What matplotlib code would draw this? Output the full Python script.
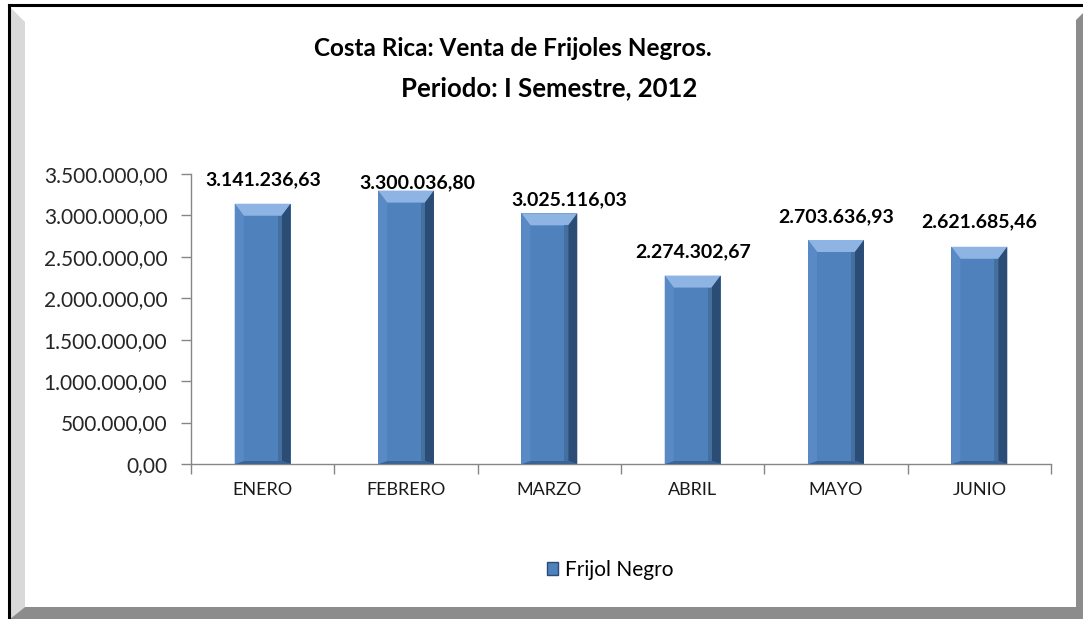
import matplotlib.pyplot as plt
import matplotlib.patches as mpatches
from matplotlib.ticker import FuncFormatter
import numpy as np

meses = ['ENERO', 'FEBRERO', 'MARZO', 'ABRIL', 'MAYO', 'JUNIO']
ventas = [3141236.63, 3300036.80, 3025116.03, 2274302.67, 2703636.93, 2621685.46]
serie = 'Frijol Negro'
titulo1 = 'Costa Rica: Venta de Frijoles Negros.'
titulo2 = 'Periodo: I Semestre, 2012'


def fmt_es(v, pos=None):
    s = f'{v:,.2f}'
    return s.replace(',', 'X').replace('.', ',').replace('X', '.')


plt.rcParams['font.family'] = ['Lato', 'DejaVu Sans']

W, H = 1083, 619
fig = plt.figure(figsize=(W / 100, H / 100), dpi=100)
fig.patch.set_facecolor('white')

# marco tipo Excel (bisel)
def px(x, y):
    return (x / W, 1 - y / H)

fig.patches.append(mpatches.Polygon([px(10, 7), px(25, 22), px(25, 607), px(10, 619)],
                                    closed=True, transform=fig.transFigure,
                                    facecolor='#D9D9D9', edgecolor='none'))
fig.patches.append(mpatches.Polygon([px(10, 619), px(25, 607), px(1076, 607), px(1083, 600), px(1083, 619)],
                                    closed=True, transform=fig.transFigure,
                                    facecolor='#8C8C8C', edgecolor='none'))
fig.patches.append(mpatches.Polygon([px(1076, 20), px(1083, 13), px(1083, 619), px(1076, 607)],
                                    closed=True, transform=fig.transFigure,
                                    facecolor='#8C8C8C', edgecolor='none'))
fig.lines.append(plt.Line2D([8.5 / W, 8.5 / W], [0, 1 - 5 / H], transform=fig.transFigure,
                            color='black', lw=2.2, solid_capstyle='projecting'))
fig.lines.append(plt.Line2D([8.5 / W, 1], [1 - 5 / H, 1 - 5 / H], transform=fig.transFigure,
                            color='black', lw=2.2, solid_capstyle='projecting'))

ax = fig.add_axes([191 / W, 1 - 464 / H, (1051 - 191) / W, (464 - 174) / H])
ax.set_facecolor('none')
x = np.arange(len(meses))
bars = ax.bar(x, ventas, width=0.39, color='#4F81BD', zorder=2)

ax.set_xlim(-0.5, len(meses) - 0.5)
ax.set_ylim(0, 3500000)
ax.set_yticks(np.arange(0, 3500001, 500000))
ax.yaxis.set_major_formatter(FuncFormatter(fmt_es))
ax.set_xticks(x)
ax.set_xticklabels(meses)
ax.set_xticks(np.arange(-0.5, len(meses), 1), minor=True)
ax.tick_params(axis='x', which='major', length=0, pad=13, labelsize=13, labelcolor='#1a1a1a')
ax.tick_params(axis='x', which='minor', length=7, color='#868686', width=1)
ax.tick_params(axis='y', length=7, color='#868686', width=1, labelsize=15, labelcolor='#262626', pad=10)
for s in ['top', 'right']:
    ax.spines[s].set_visible(False)
for s in ['left', 'bottom']:
    ax.spines[s].set_color('#868686')
    ax.spines[s].set_linewidth(1)

# bisel de las barras (en pixeles)
fig.canvas.draw()
inv = ax.transData.inverted()
d = 9
for b in bars:
    x0, y0 = ax.transData.transform((b.get_x(), 0))
    x1, y1 = ax.transData.transform((b.get_x() + b.get_width(), b.get_height()))
    t = min(d + 3, (y1 - y0) / 2)
    polys = [
        ([(x0, y1), (x1, y1), (x1 - d, y1 - t), (x0 + d, y1 - t)], '#8EB4E3'),
        ([(x1, y1), (x1, y0), (x1 - d, y0 + 3), (x1 - d, y1 - t)], '#2B4C74'),
        ([(x0, y0), (x1, y0), (x1 - d, y0 + 3), (x0 + d, y0 + 3)], '#3B6496'),
        ([(x0, y1), (x0 + d, y1 - t), (x0 + d, y0 + 3), (x0, y0)], '#5A8AC6'),
    ]
    for pts, c in polys:
        ax.add_patch(mpatches.Polygon(inv.transform(pts), closed=True, facecolor=c,
                                      edgecolor='none', zorder=3))
    ax.add_patch(mpatches.Polygon(inv.transform([(x1 - d, y1 - t), (x1 - d - 4, y1 - t),
                                                 (x1 - d - 4, y0 + 3), (x1 - d, y0 + 3)]),
                                  closed=True, facecolor='#44709F', edgecolor='none', zorder=3))

# etiquetas de datos (desplazamientos en pixeles como en el original)
offsets = [(1, 24), (11, 8), (20, 14), (0, 24), (0, 23), (0, 25)]
for b, v, (dx, dy) in zip(bars, ventas, offsets):
    ax.annotate(fmt_es(v), (b.get_x() + b.get_width() / 2, v), xytext=(dx * 0.72, dy * 0.72),
                textcoords='offset points', ha='center', va='center',
                fontsize=14, fontweight='bold', color='black', zorder=5, annotation_clip=False)

fig.text(513 / W, 1 - 48 / H, titulo1, ha='center', va='center', fontsize=17.5, fontweight='bold')
fig.text(549 / W, 1 - 88 / H, titulo2, ha='center', va='center', fontsize=18.5, fontweight='bold')

handle = mpatches.Patch(facecolor='#4F81BD', edgecolor='#2B4C74', label=serie)
fig.legend(handles=[handle], loc='center', bbox_to_anchor=(610 / W, 1 - 570 / H),
           frameon=False, fontsize=15, handlelength=0.55, handleheight=0.55, handletextpad=0.3)

fig.savefig('out.png', dpi=100)
